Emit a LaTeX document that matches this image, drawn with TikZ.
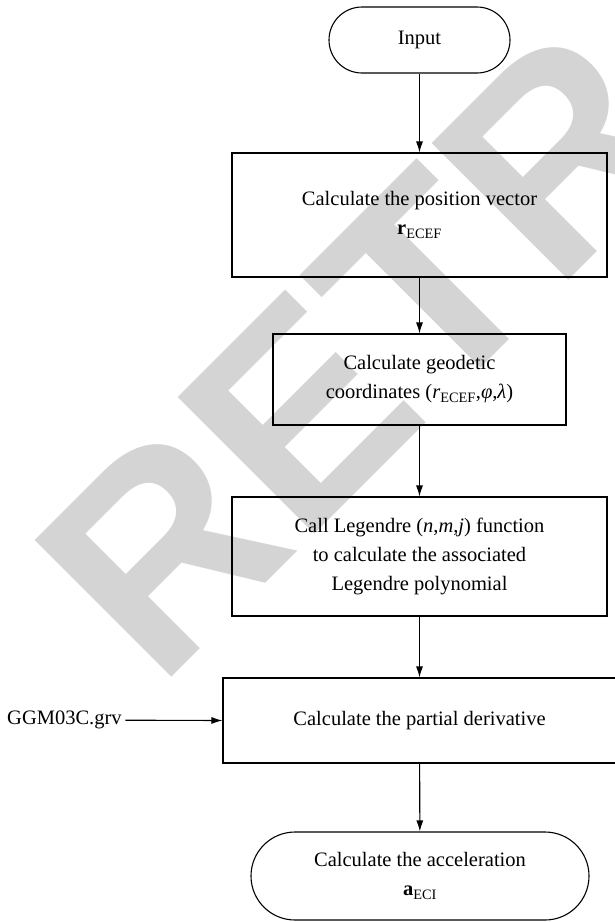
\documentclass[tikz,border=0pt]{standalone}
\usepackage{fontspec}
\setmainfont{Liberation Serif}
\newfontfamily\wmfont{Liberation Sans}
\usetikzlibrary{arrows.meta}
\tikzset{
  box/.style={draw, line width=1.1pt, rectangle, inner sep=0pt, align=center,
    font=\fontsize{20.5}{29}\selectfont},
  term/.style={box},
  conn/.style={draw, line width=1.1pt, -{Latex[length=11pt,width=7pt]}},
}
\begin{document}
\begin{tikzpicture}[x=1pt,y=-1pt]
\useasboundingbox (0,0) rectangle (614,922);
\begin{scope}
\clip (0,0) rectangle (614,922);
\node[rotate=45, anchor=base west, inner sep=0pt, text=black!17,
  font=\wmfont\bfseries\fontsize{281}{281}\selectfont] (wm) at (158,691) {RETRACTED};
\end{scope}
\node[term, minimum width=181pt, minimum height=66pt, rounded corners=33pt] (in) at (419.5,40) {Input};
\node[box, minimum width=375pt, minimum height=124pt] (b1) at (419.5,215)
  {Calculate the position vector\\\textbf{r}\textsubscript{ECEF}};
\node[box, minimum width=293pt, minimum height=91pt] (b2) at (419.5,379.5)
  {Calculate geodetic\\coordinates (\textit{r}\textsubscript{ECEF},\textit{φ},\textit{λ})};
\node[box, minimum width=375pt, minimum height=119pt] (b3) at (419.5,556.5)
  {Call Legendre (\textit{n},\textit{m},\textit{j}) function\\to calculate the associated\\Legendre polynomial};
\node[box, minimum width=393pt, minimum height=85pt] (b4) at (419.5,720.5)
  {Calculate the partial derivative};
\node[term, minimum width=338pt, minimum height=88pt, rounded corners=44pt] (out) at (420,876)
  {Calculate the acceleration\\\textbf{a}\textsubscript{ECI}};
\node[anchor=west, inner sep=3.5pt, font=\fontsize{20.5}{29}\selectfont] (ggm) at (3.5,720) {GGM03C.grv};
\draw[conn] (in) -- (b1);
\draw[conn] (b1) -- (b2);
\draw[conn] (b2) -- (b3);
\draw[conn] (b3) -- (b4);
\draw[conn] (b4) -- (out);
\draw[conn] (ggm) -- (b4.west);
\end{tikzpicture}
\end{document}
